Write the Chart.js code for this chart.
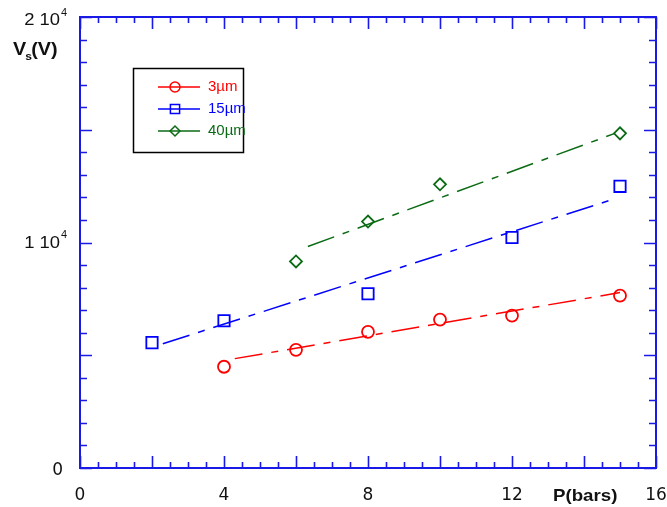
<!DOCTYPE html>
<html>
<head>
<meta charset="utf-8">
<script src="https://cdn.jsdelivr.net/npm/chart.js@4/dist/chart.umd.min.js"></script>
<style>
  html, body { margin: 0; padding: 0; background: #fff; }
  #wrap { width: 667px; height: 507px; }
</style>
</head>
<body>
<div id="wrap"><canvas id="c" width="667" height="507"></canvas></div>
<script>
// pression (bars) et tension Vs (V) par taille de particule
const labels3 = '3µm', labels15 = '15µm', labels40 = '40µm';

const p3  = [4, 6, 8, 10, 12, 15];
const v3  = [4490, 5240, 6040, 6580, 6760, 7640];
const p15 = [2, 4, 8, 12, 15];
const v15 = [5560, 6530, 7730, 10220, 12490];
const p40 = [6, 8, 10, 15];
const v40 = [9160, 10930, 12580, 14840];

// droites d'ajustement (extrémités)
const fitX3  = [4.3, 15];   const fitY3  = [4850, 7780];
const fitX15 = [2.3, 14.8]; const fitY15 = [5510, 11910];
const fitX40 = [6.33, 14.86]; const fitY40 = [9820, 14840];

const xTicks = [0, 4, 8, 12, 16];

const RED = '#ff0000', BLUE = '#0000ff', GREEN = '#0b6b14', AXIS = '#1a1ae6';
const ARIAL = '"Liberation Sans", Arial, sans-serif';
const DEJA = '"DejaVu Sans", Verdana, sans-serif';

const pts = (xs, ys) => xs.map((x, i) => ({ x, y: ys[i] }));

function scatter(label, xs, ys, color, style, r){
  return {
    label, data: pts(xs, ys), showLine: false,
    borderColor: color, backgroundColor: 'transparent',
    pointStyle: style, pointRadius: r, pointBorderWidth: 1.8
  };
}
function fit(xs, ys, color){
  return {
    label: '', data: pts(xs, ys), showLine: true, pointRadius: 0,
    borderColor: color, borderWidth: 1.5, borderDash: [28, 9, 7, 9], fill: false
  };
}

// texte un peu élargi horizontalement (comme l'original)
function txt(ctx, t, x, y, sx, right){
  const w = ctx.measureText(t).width * sx;
  ctx.save();
  ctx.translate(right ? x - w : x, y);
  ctx.scale(sx, 1);
  ctx.textAlign = 'left';
  ctx.fillText(t, 0, 0);
  ctx.restore();
  return w;
}

const series = [
  { label: labels3,  color: RED,   style: 'circle', r: 5 },
  { label: labels15, color: BLUE,  style: 'rect', r: 6.5 },
  { label: labels40, color: GREEN, style: 'rectRot', r: 5 }
];

// cadre, graduations, libellés et légende
const decor = {
  id: 'decor',
  afterDraw(chart){
    const { ctx, chartArea: a, scales: { x, y } } = chart;
    ctx.save();
    ctx.strokeStyle = AXIS;
    ctx.lineWidth = 1.6;
    // petites graduations x tous les 0.5, grandes tous les 2
    for (let v = 0; v <= 16; v += 0.5){
      const px = Math.round(x.getPixelForValue(v)) + 0.5;
      const len = (v % 2 === 0) ? 12 : 6;
      ctx.beginPath();
      ctx.moveTo(px, a.bottom); ctx.lineTo(px, a.bottom - len);
      ctx.moveTo(px, a.top); ctx.lineTo(px, a.top + len);
      ctx.stroke();
    }
    for (let v = 0; v <= 20000; v += 1000){
      const py = Math.round(y.getPixelForValue(v)) + 0.5;
      const len = (v % 5000 === 0) ? 12 : 7;
      ctx.beginPath();
      ctx.moveTo(a.left, py); ctx.lineTo(a.left + len, py);
      ctx.moveTo(a.right, py); ctx.lineTo(a.right - len, py);
      ctx.stroke();
    }
    ctx.lineWidth = 2;
    ctx.strokeRect(a.left, a.top, a.right - a.left, a.bottom - a.top);

    // libellés de l'axe y
    ctx.fillStyle = '#111';
    ctx.textBaseline = 'alphabetic';
    ctx.textAlign = 'right';
    ctx.font = '17px ' + DEJA;
    ctx.fillText('0', 63, y.getPixelForValue(0) + 7);
    [[10000, '1 10', 5, 10], [20000, '2 10', 8, 9]].forEach(([v, t, off, up]) => {
      const base = y.getPixelForValue(v) + off;
      ctx.font = '16px ' + ARIAL;
      txt(ctx, t, 60, base, 1.15, true);
      ctx.font = '10px ' + ARIAL;
      txt(ctx, '4', 61, base - up, 1.1, false);
    });

    // titres des axes
    ctx.font = 'bold 18px ' + ARIAL;
    let w = txt(ctx, 'V', 13, 55, 1.1, false);
    ctx.font = 'bold 11px ' + ARIAL;
    txt(ctx, 's', 13 + w - 1, 60, 1.1, false);
    ctx.font = 'bold 18px ' + ARIAL;
    txt(ctx, '(V)', 13 + w + 5, 55, 1.1, false);
    ctx.font = 'bold 17px ' + ARIAL;
    txt(ctx, 'P(bars)', 553, 501, 1.1, false);

    // légende
    ctx.strokeStyle = '#000';
    ctx.lineWidth = 1.5;
    ctx.strokeRect(133.5, 68.5, 110, 84);
    ctx.font = '15px ' + ARIAL;
    ctx.textBaseline = 'middle';
    series.forEach((s, i) => {
      const ly = 87 + i * 22;
      ctx.strokeStyle = s.color;
      ctx.fillStyle = 'rgba(0,0,0,0)';
      ctx.lineWidth = 1.5;
      ctx.beginPath(); ctx.moveTo(158, ly); ctx.lineTo(200, ly); ctx.stroke();
      Chart.helpers.drawPoint(ctx, { pointStyle: s.style, radius: s.r, borderWidth: 1.6 }, 175, ly);
      ctx.fillStyle = s.color;
      ctx.textAlign = 'left';
      ctx.fillText(s.label, 208, ly);
    });
    ctx.restore();
  }
};

new Chart(document.getElementById('c'), {
  type: 'scatter',
  data: {
    datasets: [
      fit(fitX3, fitY3, RED),
      fit(fitX15, fitY15, BLUE),
      fit(fitX40, fitY40, GREEN),
      scatter(labels3,  p3,  v3,  RED,   'circle', 6),
      scatter(labels15, p15, v15, BLUE,  'rect', 8),
      scatter(labels40, p40, v40, GREEN, 'rectRot', 6)
    ]
  },
  options: {
    responsive: false,
    animation: false,
    layout: { padding: { left: 80, right: 11, top: 17, bottom: 0 } },
    plugins: { legend: { display: false }, tooltip: { enabled: false } },
    scales: {
      x: {
        type: 'linear', min: 0, max: 16,
        afterBuildTicks: s => { s.ticks = xTicks.map(v => ({ value: v })); },
        afterFit: s => { s.height = 39; s.paddingLeft = 0; s.paddingRight = 0; },
        grid: { display: false, drawTicks: false },
        border: { display: false },
        ticks: { color: '#111', padding: 17, maxRotation: 0, font: { size: 17, family: DEJA } }
      },
      y: {
        type: 'linear', min: 0, max: 20000, display: false
      }
    }
  },
  plugins: [decor]
});
</script>
</body>
</html>
